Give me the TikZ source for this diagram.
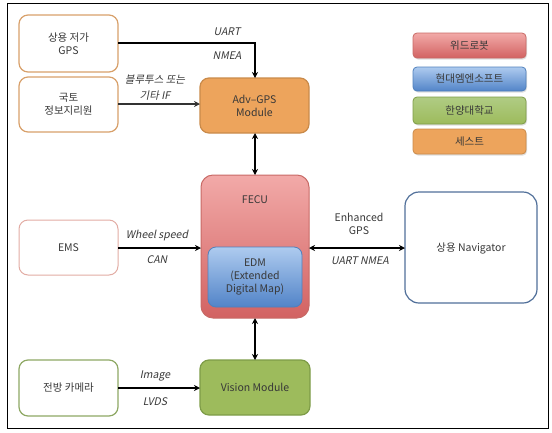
\documentclass[tikz,border=0pt]{standalone}
\usepackage{fontspec}
\setmainfont{Noto Sans CJK KR}[AutoFakeSlant=0.2]
\usetikzlibrary{arrows.meta,shadows}
\definecolor{txt}{HTML}{383838}
\definecolor{orfill}{HTML}{EDA45C}
\definecolor{ordraw}{HTML}{C98A4A}
\definecolor{orline}{HTML}{D8A06A}
\definecolor{emsline}{HTML}{E2ACA4}
\definecolor{camline}{HTML}{8EA864}
\definecolor{navline}{HTML}{51709A}
\definecolor{redtop}{HTML}{F2AAA8}
\definecolor{redbot}{HTML}{D26262}
\definecolor{reddraw}{HTML}{C86A66}
\definecolor{bluetop}{HTML}{AECBEF}
\definecolor{bluebot}{HTML}{5284C8}
\definecolor{bluedraw}{HTML}{5080BC}
\definecolor{grfill}{HTML}{9DBB5C}
\definecolor{grdraw}{HTML}{7E9C48}
\definecolor{grtop}{HTML}{B0CC84}
\begin{document}
\begin{tikzpicture}[x=1pt,y=-1pt,
  every node/.style={font=\fontsize{10.5}{13}\selectfont, text=txt, align=center},
  box/.style={rounded corners=9pt, line width=1.2pt, fill=white},
  lab/.style={font=\fontsize{10.5}{12}\selectfont\itshape, text=txt},
  conn/.style={line width=1.3pt, -{Stealth[length=6pt,width=6pt]}},
  bconn/.style={line width=1.3pt, {Stealth[length=6pt,width=6pt]}-{Stealth[length=6pt,width=6pt]}},
  leg/.style={rounded corners=4pt, line width=0.8pt, drop shadow={shadow xshift=1pt,shadow yshift=-1.5pt,opacity=0.25}}
]
\useasboundingbox (0,0) rectangle (552,432);
\draw[line width=1pt] (7,3) rectangle (548,428);

% left boxes
\draw[box, draw=orline] (19,15) rectangle (118,72);
\node (gps) at (68.5,43.5) {상용 저가\\GPS};
\coordinate (gpsE) at (118,43);
\draw[box, draw=orline] (19,77) rectangle (118,132);
\node (ngi) at (68.5,104.5) {국토\\정보지리원};
\coordinate (ngiE) at (118,104);
\draw[box, draw=emsline, line width=1pt] (19,220) rectangle (118,275);
\node (ems) at (68.5,247.5) {EMS};
\coordinate (emsE) at (118,248);
\draw[box, draw=camline] (19,360) rectangle (118,416);
\node (cam) at (68.5,388) {전방 카메라};
\coordinate (camE) at (118,388);

% Adv-GPS
\draw[rounded corners=9pt, line width=1.2pt, fill=orfill, draw=ordraw] (200,78) rectangle (309,133);
\node (adv) at (254.5,105.5) {Adv–GPS\\Module};
\coordinate (advN) at (255,78);
\coordinate (advW) at (200,104);
\coordinate (advS) at (255,133);

% FECU
\draw[rounded corners=12pt, line width=1pt, draw=reddraw, top color=redtop, bottom color=redbot] (201,175) rectangle (309,318);
\node (fecu) at (255,200) {FECU};
\coordinate (fecuN) at (255,175);
\coordinate (fecuS) at (255,318);
\coordinate (fecuW) at (201,248);
\coordinate (fecuE) at (309,248);
\draw[rounded corners=8pt, line width=0.8pt, draw=bluedraw, top color=bluetop, bottom color=bluebot] (208,247) rectangle (302,307);
\node (edm) at (255,277) {EDM\\(Extended\\Digital Map)};

% Vision
\draw[rounded corners=9pt, line width=1.2pt, fill=grfill, draw=grdraw] (200,360) rectangle (310,415);
\node (vis) at (255,387.5) {Vision Module};
\coordinate (visN) at (255,360);
\coordinate (visW) at (200,388);

% Navigator
\draw[box, draw=navline, rounded corners=14pt] (405,192) rectangle (537,303);
\node (nav) at (471,248) {상용 Navigator};
\coordinate (navW) at (405,248);

% legend
\draw[leg, draw=reddraw, top color=redtop, bottom color=redbot] (413,33) rectangle (526,58);
\node (l1) at (469.5,45.5) {위드로봇};
\draw[leg, draw=bluedraw, top color=bluetop, bottom color=bluebot] (413,67) rectangle (526,91);
\node (l2) at (469.5,79) {현대엠엔소프트};
\draw[leg, draw=grdraw, top color=grtop, bottom color=grfill] (413,97) rectangle (526,124);
\node (l3) at (469.5,110.5) {한양대학교};
\draw[leg, draw=ordraw, fill=orfill] (413,129) rectangle (526,154);
\node (l4) at (469.5,141.5) {세스트};

% connectors
\draw[conn] (gpsE) -| (advN);
\node[lab] at (227,32) {UART};
\node[lab] at (227,56) {NMEA};
\draw[conn, draw=black!80] (ngiE) -- (advW);
\node[lab] at (155,80) {블루투스 또는};
\node[lab] at (155,96) {기타 IF};
\draw[bconn] (advS) -- (fecuN);
\draw[conn] (emsE) -- (fecuW);
\node[lab] at (157,236) {Wheel speed};
\node[lab] at (157,260) {CAN};
\draw[bconn] (fecuE) -- (navW);
\node at (359,224) {Enhanced\\GPS};
\node[lab] at (360,261) {UART NMEA};
\draw[bconn] (fecuS) -- (visN);
\draw[conn] (camE) -- (visW);
\node[lab] at (155,376) {Image};
\node[lab] at (155,402) {LVDS};
\end{tikzpicture}
\end{document}
